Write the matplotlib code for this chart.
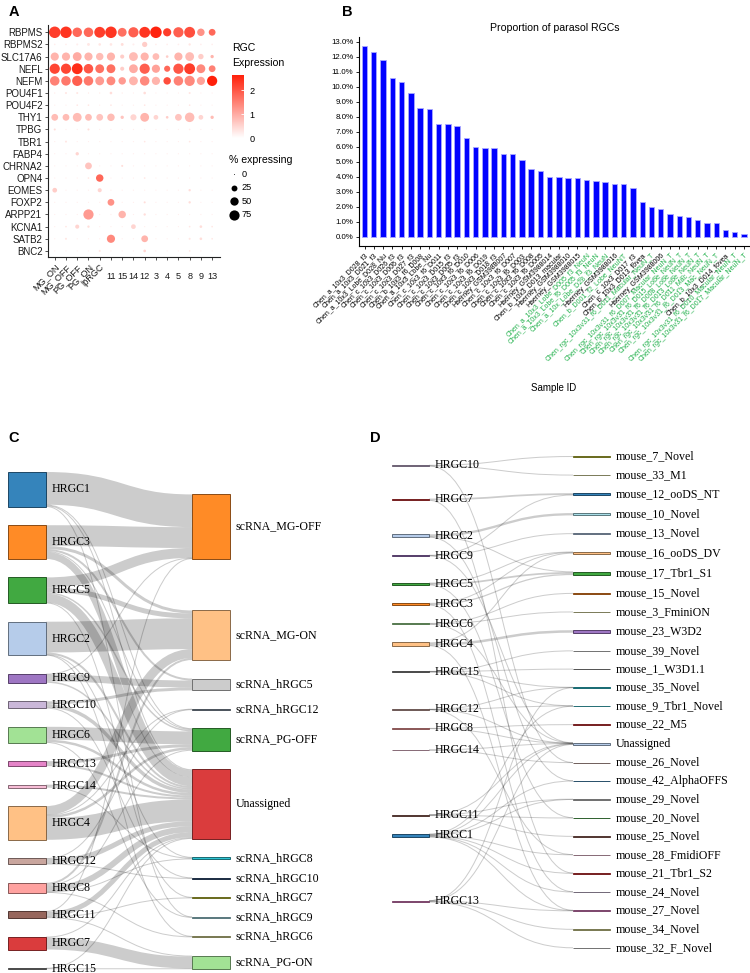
import numpy as np
import matplotlib
matplotlib.use('Agg')
import matplotlib.pyplot as plt
from matplotlib.colors import LinearSegmentedColormap, to_rgb
from matplotlib.path import Path
from matplotlib.patches import PathPatch, Rectangle

W, H = 750, 973
SANS = 'Liberation Sans'
SERIF = 'Liberation Serif'

# ---------------- panel A data ----------------
genes = ['RBPMS', 'RBPMS2', 'SLC17A6', 'NEFL', 'NEFM', 'POU4F1', 'POU4F2', 'THY1', 'TPBG', 'TBR1',
         'FABP4', 'CHRNA2', 'OPN4', 'EOMES', 'FOXP2', 'ARPP21', 'KCNA1', 'SATB2', 'BNC2']
clusters = ['MG_ON', 'MG_OFF', 'PG_OFF', 'PG_ON', 'ipRGC', '11', '15', '14', '12', '3', '4', '5', '8', '9', '13']
pct_expr = np.array([
    [95, 95, 65, 65, 85, 95, 56, 75, 85, 95, 48, 75, 85, 40, 33],
    [2, 2, 3, 6, 5, 5, 6, 3, 20, 2, 2, 2, 4, 2, 2],
    [48, 48, 56, 48, 40, 48, 12, 56, 48, 33, 5, 48, 56, 21, 8],
    [75, 75, 85, 65, 56, 56, 12, 56, 75, 48, 27, 75, 85, 56, 33],
    [65, 65, 75, 65, 56, 56, 40, 56, 65, 48, 40, 65, 75, 48, 75],
    [1, 3, 3, 1, 1, 5, 1, 1, 5, 1, 1, 1, 3, 1, 1],
    [1, 1, 2, 2, 1, 2, 1, 1, 2, 1, 1, 1, 2, 1, 1],
    [33, 33, 56, 33, 33, 40, 8, 27, 56, 16, 5, 33, 65, 16, 8],
    [3, 1, 1, 3, 1, 1, 1, 1, 1, 1, 1, 1, 2, 1, 1],
    [1, 3, 1, 1, 1, 1, 1, 1, 2, 1, 1, 1, 2, 1, 1],
    [1, 1, 8, 1, 1, 1, 1, 1, 1, 1, 1, 1, 1, 1, 1],
    [1, 1, 1, 33, 1, 1, 3, 1, 1, 1, 1, 1, 1, 1, 1],
    [1, 1, 1, 2, 40, 1, 1, 1, 2, 1, 1, 1, 1, 1, 1],
    [16, 1, 1, 1, 12, 1, 1, 1, 1, 1, 1, 1, 4, 1, 1],
    [1, 1, 1, 1, 1, 33, 1, 1, 3, 1, 1, 1, 4, 1, 1],
    [1, 1, 1, 75, 1, 1, 40, 1, 4, 1, 1, 1, 1, 1, 1],
    [1, 2, 12, 4, 1, 1, 1, 16, 1, 1, 1, 1, 2, 5, 2],
    [1, 3, 1, 1, 1, 48, 1, 1, 33, 1, 1, 1, 3, 5, 2],
    [1, 1, 1, 1, 3, 1, 1, 1, 5, 1, 1, 1, 2, 1, 1],
])
avg_expr = np.array([
    [2.3, 2.4, 1.8, 1.8, 2.3, 2.4, 1.7, 1.9, 2.4, 2.6, 2.3, 1.9, 2.1, 1.3, 1.8],
    [0.2, 0.2, 0.2, 0.3, 0.3, 0.3, 0.4, 0.2, 0.6, 0.2, 0.2, 0.2, 0.3, 0.2, 0.2],
    [0.9, 0.9, 1.0, 0.9, 0.8, 0.9, 0.6, 0.8, 0.9, 0.8, 0.6, 0.9, 0.8, 0.6, 0.9],
    [2.2, 2.2, 2.5, 2.0, 1.7, 1.7, 0.6, 1.0, 1.9, 1.1, 1.8, 2.0, 2.3, 1.4, 1.5],
    [1.5, 1.6, 1.9, 1.6, 1.2, 1.4, 1.2, 0.9, 1.4, 0.9, 2.1, 1.5, 1.4, 1.1, 2.7],
    [0.3, 0.3, 0.3, 0.3, 0.3, 0.4, 0.3, 0.2, 0.4, 0.2, 0.2, 0.2, 0.3, 0.2, 0.2],
    [0.2, 0.2, 0.3, 0.3, 0.2, 0.3, 0.2, 0.2, 0.3, 0.2, 0.2, 0.2, 0.3, 0.2, 0.2],
    [0.8, 0.8, 0.8, 0.8, 0.7, 0.8, 0.7, 0.5, 0.9, 0.5, 0.6, 0.7, 0.8, 0.5, 0.8],
    [0.4, 0.2, 0.2, 0.4, 0.2, 0.2, 0.2, 0.2, 0.2, 0.2, 0.2, 0.2, 0.2, 0.2, 0.2],
    [0.2, 0.3, 0.2, 0.2, 0.2, 0.2, 0.2, 0.2, 0.3, 0.2, 0.2, 0.2, 0.3, 0.2, 0.2],
    [0.2, 0.2, 0.5, 0.2, 0.2, 0.2, 0.2, 0.2, 0.2, 0.2, 0.2, 0.2, 0.2, 0.2, 0.2],
    [0.2, 0.2, 0.2, 0.7, 0.2, 0.2, 0.4, 0.2, 0.2, 0.2, 0.2, 0.2, 0.2, 0.2, 0.2],
    [0.2, 0.2, 0.2, 0.3, 1.8, 0.2, 0.2, 0.2, 0.3, 0.2, 0.2, 0.2, 0.2, 0.2, 0.2],
    [0.6, 0.2, 0.2, 0.2, 0.5, 0.2, 0.2, 0.2, 0.2, 0.2, 0.2, 0.2, 0.4, 0.2, 0.2],
    [0.2, 0.2, 0.2, 0.2, 0.2, 1.3, 0.2, 0.2, 0.4, 0.2, 0.2, 0.2, 0.4, 0.2, 0.2],
    [0.2, 0.2, 0.2, 1.2, 0.2, 0.2, 0.9, 0.2, 0.4, 0.2, 0.2, 0.2, 0.2, 0.2, 0.2],
    [0.2, 0.3, 0.5, 0.4, 0.2, 0.2, 0.2, 0.5, 0.2, 0.2, 0.2, 0.2, 0.3, 0.4, 0.3],
    [0.2, 0.3, 0.2, 0.2, 0.2, 1.4, 0.2, 0.2, 0.9, 0.2, 0.2, 0.2, 0.3, 0.4, 0.3],
    [0.2, 0.2, 0.2, 0.2, 0.3, 0.2, 0.2, 0.2, 0.5, 0.2, 0.2, 0.2, 0.3, 0.2, 0.2],
])
size_legend = [0, 25, 50, 75]

# ---------------- panel B data ----------------
samples = [
    'Chen_a_10x3_D028_f3', 'Chen_a_10x3_D021_f3', 'Chen_a_10x3_Lobe_D028_Nu', 'Chen_c_10x3_D026_f3',
    'Chen_c_10x3_D006_f3', 'Chen_c_10x3_D027_f3', 'Chen_b_10x3_f6_D008', 'Chen_a_10x3_Lobe_Nu',
    'Chen_c_10x3_f6_D011', 'Chen_c_10x3_D015_f3', 'Chen_c_10x3_D005_f3', 'Chen_c_10x3_f6_D010',
    'Chen_c_10x3_f6_D006', 'Chen_c_10x3_f6_D019', 'Chen_c_10x3_D018_f3', 'Haerney_GSM3988007',
    'Chen_c_10x3_f6_D007', 'Chen_c_10x3_f6_D003', 'Chen_c_10x3_f6_D008', 'Chen_c_10x3_f6_D005',
    'Haerney_GSM3988014', 'Chen_b_10x3_D013_macular', 'Haerney_GSM3988010', 'Haerney_GSM3988015',
    'Chen_a_10x3_Lobe_D005_f3_NeuN', 'Chen_a_10x3_Lobe_f6_D005_f3_NeuN', 'Chen_a_10x_Lobe_D28_f3_NeuN',
    'Haerney_GSM3988016', 'Chen_b_D001_f2_Lobe_NeuNT', 'Chen_c_10x3_D017_f3', 'Chen_b_10x3_D013_fovea',
    'Chen_rgc_10x3v31_f6_D011_Macular_NeuN_T', 'Haerney_GSM3988006',
    'Chen_rgc_10x3v31_f6_D007_Macular_NeuN_T', 'Chen_rgc_10x3v31_f6_D015_Lobe_NeuN_T',
    'Chen_rgc_10x3v31_f6_D008_Lobe_NeuN_T', 'Chen_rgc_10x3v31_f6_D013_Lobe_NeuN_T',
    'Chen_rgc_10x3v31_f6_D011_Mac_NeuN_T', 'Chen_rgc_10x3v31_f6_D013_Mac_NeuN_T',
    'Chen_b_10x3_D014_fovea', 'Chen_rgc_10x3v31_f6_D010_Macular_NeuN_T',
    'Chen_rgc_10x3v31_f6_D017_Macular_NeuN_T',
]
parasol_pct = [12.7, 12.3, 11.8, 10.6, 10.3, 9.6, 8.6, 8.5, 7.5, 7.5, 7.4, 6.6, 6.0, 5.9, 5.9, 5.5,
               5.5, 5.1, 4.5, 4.4, 4.0, 4.0, 3.95, 3.9, 3.8, 3.75, 3.65, 3.5, 3.5, 3.25, 2.3, 2.0,
               1.85, 1.5, 1.4, 1.3, 1.15, 0.95, 0.95, 0.45, 0.35, 0.2]
neun_enriched = [0] * 24 + [1, 1, 1, 0, 1, 0, 0, 1, 0, 1, 1, 1, 1, 1, 1, 0, 1, 1]

# ---------------- panel C data ----------------
c_left = ['HRGC1', 'HRGC3', 'HRGC5', 'HRGC2', 'HRGC9', 'HRGC10', 'HRGC6', 'HRGC13', 'HRGC14',
          'HRGC4', 'HRGC12', 'HRGC8', 'HRGC11', 'HRGC7', 'HRGC15']
c_right = ['scRNA_MG-OFF', 'scRNA_MG-ON', 'scRNA_hRGC5', 'scRNA_hRGC12', 'scRNA_PG-OFF', 'Unassigned',
           'scRNA_hRGC8', 'scRNA_hRGC10', 'scRNA_hRGC7', 'scRNA_hRGC9', 'scRNA_hRGC6', 'scRNA_PG-ON']
c_links = [
    ('HRGC1', 'scRNA_MG-OFF', 33), ('HRGC1', 'Unassigned', 1), ('HRGC1', 'scRNA_hRGC9', 0.5), ('HRGC1', 'scRNA_PG-OFF', 0.5),
    ('HRGC3', 'scRNA_MG-OFF', 21), ('HRGC3', 'scRNA_MG-ON', 3), ('HRGC3', 'Unassigned', 7), ('HRGC3', 'scRNA_hRGC5', 2),
    ('HRGC3', 'scRNA_PG-OFF', 1),
    ('HRGC5', 'scRNA_MG-OFF', 10), ('HRGC5', 'scRNA_MG-ON', 5), ('HRGC5', 'Unassigned', 9), ('HRGC5', 'scRNA_PG-OFF', 1.5),
    ('HRGC5', 'scRNA_hRGC7', 0.5),
    ('HRGC2', 'scRNA_MG-ON', 31), ('HRGC2', 'Unassigned', 2), ('HRGC2', 'scRNA_hRGC6', 0.5), ('HRGC2', 'scRNA_hRGC8', 0.5),
    ('HRGC9', 'scRNA_hRGC5', 7), ('HRGC9', 'scRNA_MG-OFF', 0.5), ('HRGC9', 'Unassigned', 1.5),
    ('HRGC10', 'scRNA_hRGC5', 3), ('HRGC10', 'Unassigned', 3.5), ('HRGC10', 'scRNA_hRGC10', 0.5),
    ('HRGC6', 'scRNA_PG-OFF', 13), ('HRGC6', 'Unassigned', 2.5), ('HRGC6', 'scRNA_hRGC9', 0.5),
    ('HRGC13', 'scRNA_PG-OFF', 3), ('HRGC13', 'Unassigned', 2),
    ('HRGC14', 'Unassigned', 2), ('HRGC14', 'scRNA_hRGC8', 1),
    ('HRGC4', 'Unassigned', 22), ('HRGC4', 'scRNA_MG-ON', 9), ('HRGC4', 'scRNA_PG-OFF', 2.5), ('HRGC4', 'scRNA_hRGC12', 0.5),
    ('HRGC12', 'Unassigned', 5), ('HRGC12', 'scRNA_hRGC12', 0.5), ('HRGC12', 'scRNA_hRGC10', 0.5),
    ('HRGC8', 'Unassigned', 6), ('HRGC8', 'scRNA_MG-ON', 2), ('HRGC8', 'scRNA_PG-OFF', 1), ('HRGC8', 'scRNA_hRGC8', 0.5),
    ('HRGC8', 'scRNA_hRGC6', 0.5),
    ('HRGC11', 'Unassigned', 5), ('HRGC11', 'scRNA_hRGC7', 0.5), ('HRGC11', 'scRNA_PG-ON', 1), ('HRGC11', 'scRNA_MG-OFF', 0.5),
    ('HRGC7', 'scRNA_PG-ON', 12), ('HRGC7', 'Unassigned', 1),
    ('HRGC15', 'scRNA_PG-ON', 0.5), ('HRGC15', 'Unassigned', 0.5),
]

# ---------------- panel D data ----------------
d_left = ['HRGC10', 'HRGC7', 'HRGC2', 'HRGC9', 'HRGC5', 'HRGC3', 'HRGC6', 'HRGC4', 'HRGC15',
          'HRGC12', 'HRGC8', 'HRGC14', 'HRGC11', 'HRGC1', 'HRGC13']
d_right = ['mouse_7_Novel', 'mouse_33_M1', 'mouse_12_ooDS_NT', 'mouse_10_Novel', 'mouse_13_Novel',
           'mouse_16_ooDS_DV', 'mouse_17_Tbr1_S1', 'mouse_15_Novel', 'mouse_3_FminiON', 'mouse_23_W3D2',
           'mouse_39_Novel', 'mouse_1_W3D1.1', 'mouse_35_Novel', 'mouse_9_Tbr1_Novel', 'mouse_22_M5',
           'Unassigned', 'mouse_26_Novel', 'mouse_42_AlphaOFFS', 'mouse_29_Novel', 'mouse_20_Novel',
           'mouse_25_Novel', 'mouse_28_FmidiOFF', 'mouse_21_Tbr1_S2', 'mouse_24_Novel', 'mouse_27_Novel',
           'mouse_34_Novel', 'mouse_32_F_Novel']
d_links = [
    ('HRGC10', 'mouse_7_Novel', 2.0), ('HRGC10', 'mouse_33_M1', 0.3), ('HRGC10', 'mouse_26_Novel', 0.05),
    ('HRGC7', 'mouse_12_ooDS_NT', 3.5), ('HRGC7', 'mouse_21_Tbr1_S2', 0.05),
    ('HRGC2', 'mouse_10_Novel', 4.6), ('HRGC2', 'mouse_17_Tbr1_S1', 1.0), ('HRGC2', 'mouse_42_AlphaOFFS', 0.25),
    ('HRGC9', 'mouse_13_Novel', 1.0), ('HRGC9', 'mouse_12_ooDS_NT', 0.3), ('HRGC9', 'Unassigned', 0.2),
    ('HRGC5', 'mouse_17_Tbr1_S1', 3.5), ('HRGC5', 'mouse_16_ooDS_DV', 0.3), ('HRGC5', 'mouse_20_Novel', 0.2),
    ('HRGC3', 'mouse_17_Tbr1_S1', 2.5), ('HRGC3', 'mouse_16_ooDS_DV', 1.5), ('HRGC3', 'mouse_24_Novel', 0.2),
    ('HRGC6', 'mouse_15_Novel', 1.2), ('HRGC6', 'mouse_3_FminiON', 1.0), ('HRGC6', 'Unassigned', 0.3),
    ('HRGC4', 'mouse_23_W3D2', 5.0), ('HRGC4', 'mouse_16_ooDS_DV', 1.5), ('HRGC4', 'mouse_27_Novel', 0.2),
    ('HRGC15', 'mouse_39_Novel', 0.5), ('HRGC15', 'mouse_1_W3D1.1', 0.5), ('HRGC15', 'mouse_35_Novel', 0.3),
    ('HRGC15', 'mouse_9_Tbr1_Novel', 0.2),
    ('HRGC12', 'mouse_35_Novel', 0.6), ('HRGC12', 'mouse_9_Tbr1_Novel', 0.3), ('HRGC12', 'Unassigned', 0.2),
    ('HRGC12', 'mouse_28_FmidiOFF', 0.05),
    ('HRGC8', 'mouse_22_M5', 0.8), ('HRGC8', 'Unassigned', 0.2),
    ('HRGC14', 'Unassigned', 0.8), ('HRGC14', 'mouse_26_Novel', 0.4),
    ('HRGC11', 'mouse_20_Novel', 0.8), ('HRGC11', 'mouse_25_Novel', 0.8), ('HRGC11', 'Unassigned', 0.2),
    ('HRGC11', 'mouse_29_Novel', 0.3),
    ('HRGC1', 'mouse_9_Tbr1_Novel', 0.8), ('HRGC1', 'mouse_29_Novel', 0.8), ('HRGC1', 'mouse_28_FmidiOFF', 0.8),
    ('HRGC1', 'mouse_21_Tbr1_S2', 1.2), ('HRGC1', 'mouse_24_Novel', 1.0), ('HRGC1', 'Unassigned', 1.2),
    ('HRGC1', 'mouse_42_AlphaOFFS', 0.5), ('HRGC1', 'mouse_27_Novel', 0.5),
    ('HRGC13', 'mouse_27_Novel', 1.0), ('HRGC13', 'mouse_34_Novel', 1.0), ('HRGC13', 'mouse_32_F_Novel', 0.8),
    ('HRGC13', 'Unassigned', 0.2), ('HRGC13', 'mouse_35_Novel', 0.2),
]

# node colours (d3 category20 style)
hrgc_colors = {
    'HRGC1': '#1f77b4', 'HRGC2': '#aec7e8', 'HRGC3': '#ff7f0e', 'HRGC4': '#ffbb78', 'HRGC5': '#2ca02c',
    'HRGC6': '#98df8a', 'HRGC7': '#d62728', 'HRGC8': '#ff9896', 'HRGC9': '#9467bd', 'HRGC10': '#c5b0d5',
    'HRGC11': '#8c564b', 'HRGC12': '#c49c94', 'HRGC13': '#e377c2', 'HRGC14': '#f7b6d2', 'HRGC15': '#7f7f7f',
}
c_right_colors = {
    'scRNA_MG-OFF': '#ff7f0e', 'scRNA_MG-ON': '#ffbb78', 'scRNA_hRGC5': '#c7c7c7', 'scRNA_hRGC12': '#7f8fa0',
    'scRNA_PG-OFF': '#2ca02c', 'Unassigned': '#d62728', 'scRNA_hRGC8': '#17becf', 'scRNA_hRGC10': '#1f3f6f',
    'scRNA_hRGC7': '#bcbd22', 'scRNA_hRGC9': '#9edae5', 'scRNA_hRGC6': '#dbdb8d', 'scRNA_PG-ON': '#98df8a',
}
d_right_colors = {
    'mouse_7_Novel': '#bcbd22', 'mouse_33_M1': '#dbdb8d', 'mouse_12_ooDS_NT': '#1f77b4',
    'mouse_10_Novel': '#9edae5', 'mouse_13_Novel': '#aec7e8', 'mouse_16_ooDS_DV': '#ffbb78',
    'mouse_17_Tbr1_S1': '#2ca02c', 'mouse_15_Novel': '#ff7f0e', 'mouse_3_FminiON': '#dbdb8d',
    'mouse_23_W3D2': '#9467bd', 'mouse_39_Novel': '#c7c7c7', 'mouse_1_W3D1.1': '#7f7f7f',
    'mouse_35_Novel': '#17becf', 'mouse_9_Tbr1_Novel': '#17becf', 'mouse_22_M5': '#d62728',
    'Unassigned': '#aec7e8', 'mouse_26_Novel': '#c49c94', 'mouse_42_AlphaOFFS': '#1f77b4',
    'mouse_29_Novel': '#c7c7c7', 'mouse_20_Novel': '#2ca02c', 'mouse_25_Novel': '#8c564b',
    'mouse_28_FmidiOFF': '#f7b6d2', 'mouse_21_Tbr1_S2': '#d62728', 'mouse_24_Novel': '#c5b0d5',
    'mouse_27_Novel': '#e377c2', 'mouse_34_Novel': '#dbdb8d', 'mouse_32_F_Novel': '#c7c7c7',
}


def px_rect(x0, y0, x1, y1):
    return [x0 / W, 1 - y1 / H, (x1 - x0) / W, (y1 - y0) / H]


def sankey_layout(left, right, links, top, bottom, pad, iterations=32):
    val = {}
    for s, t, v in links:
        val[s] = val.get(s, 0) + v
        val[t] = val.get(t, 0) + v
    cols = [left, right]
    ky = min((bottom - top - (len(c) - 1) * pad) / sum(val[n] for n in c) for c in cols)
    h = {n: val[n] * ky for n in left + right}
    y = {}
    for c in cols:
        pos = top
        for n in c:
            y[n] = pos
            pos += h[n] + pad

    def center(n):
        return y[n] + h[n] / 2

    def resolve(c):
        pos = top
        for n in c:
            if y[n] < pos:
                y[n] = pos
            pos = y[n] + h[n] + pad
        over = pos - pad - bottom
        if over > 0:
            y[c[-1]] -= over
            pos = y[c[-1]]
            for n in reversed(c[:-1]):
                if y[n] + h[n] + pad > pos:
                    y[n] = pos - pad - h[n]
                pos = y[n]

    alpha = 1.0
    for _ in range(iterations):
        alpha *= 0.99
        for n in left:
            ws = [(v, t) for s, t, v in links if s == n]
            tot = sum(v for v, _ in ws)
            y[n] += (sum(center(t) * v for v, t in ws) / tot - center(n)) * alpha
        resolve(left)
        for n in right:
            ws = [(v, s) for s, t, v in links if t == n]
            tot = sum(v for v, _ in ws)
            y[n] += (sum(center(s) * v for v, s in ws) / tot - center(n)) * alpha
        resolve(right)
    return y, h, ky


def darker(c, k=2):
    r, g, b = to_rgb(c)
    f = 0.7 ** k
    return (r * f, g * f, b * f)


def draw_sankey(ax, left, right, links, colors, xl, xr, nw, top, bottom, pad):
    y, h, ky = sankey_layout(left, right, links, top, bottom, pad)
    cen = {n: y[n] + h[n] / 2 for n in y}
    sy, ty = {}, {}
    for n in left:
        off = 0
        for i in sorted([i for i, l in enumerate(links) if l[0] == n], key=lambda i: cen[links[i][1]]):
            sy[i] = off
            off += links[i][2] * ky
    for n in right:
        off = 0
        for i in sorted([i for i, l in enumerate(links) if l[1] == n], key=lambda i: cen[links[i][0]]):
            ty[i] = off
            off += links[i][2] * ky
    x0, x1 = xl + nw, xr
    xm = x0 + (x1 - x0) * 0.5
    for i, (s, t, v) in enumerate(links):
        w = v * ky
        y0 = y[s] + sy[i] + w / 2
        y1 = y[t] + ty[i] + w / 2
        path = Path([(x0, y0), (xm, y0), (xm, y1), (x1, y1)],
                    [Path.MOVETO, Path.CURVE4, Path.CURVE4, Path.CURVE4])
        ax.add_patch(PathPatch(path, fc='none', ec='black', alpha=0.2, lw=max(1, w) * 0.72,
                               capstyle='butt', zorder=1))
    for col, x in ((left, xl), (right, xr)):
        for n in col:
            ax.add_patch(Rectangle((x, y[n]), nw, h[n], fc=colors[n], ec=darker(colors[n]),
                                   lw=0.7, alpha=0.9, zorder=2))
            ax.text(x + nw + 5.5, cen[n], n, fontsize=8.6, family=SERIF, va='center',
                    ha='left', color='black', zorder=3)


fig = plt.figure(figsize=(W / 100, H / 100), dpi=100)

# ---------------- A: dot plot ----------------
cmap = LinearSegmentedColormap.from_list('rgc', ['#ffffff', '#ff200a'])
ax_a = fig.add_axes(px_rect(48, 25, 220, 257))
xx, yy = np.meshgrid(np.arange(len(clusters)), np.arange(len(genes)))
sc = ax_a.scatter(xx.ravel(), yy.ravel(), s=np.maximum(pct_expr.ravel(), 0.4) * 0.72,
                  c=avg_expr.ravel(), cmap=cmap, vmin=0, vmax=2.65, linewidths=0)
ax_a.set_xlim(-0.6, len(clusters) - 0.3)
ax_a.set_ylim(len(genes) - 0.5, -0.6)
ax_a.set_yticks(range(len(genes)))
ax_a.set_yticklabels(genes, fontsize=7.0, family=SANS, color='#1a1a1a')
ax_a.set_xticks(range(len(clusters)))
ax_a.set_xticklabels(clusters, fontsize=6.6, family=SANS, color='#1a1a1a')
ax_a.tick_params(length=2.5, width=0.6, pad=1.5, color='#333333')
for tick, name in zip(ax_a.xaxis.get_major_ticks(), clusters):
    lbl = tick.label1
    if name.isdigit():
        tick.set_pad(8.5)
        lbl.set_va('top')
    else:
        lbl.set_rotation(45)
        lbl.set_ha('right')
        lbl.set_va('top')
        lbl.set_rotation_mode('anchor')
for side in ('top', 'right'):
    ax_a.spines[side].set_visible(False)
for side in ('left', 'bottom'):
    ax_a.spines[side].set_linewidth(0.8)
    ax_a.spines[side].set_color('#222222')

fig.text(232 / W, 1 - 43 / H, 'RGC\nExpression', fontsize=7.6, family=SANS, va='top', ha='left',
         linespacing=1.6)
cax = fig.add_axes(px_rect(232, 75, 244, 138))
cb = fig.colorbar(sc, cax=cax, ticks=[0, 1, 2])
cb.outline.set_visible(False)
cax.tick_params(axis='y', direction='in', length=2.5, width=0.6, color='white', pad=4, labelsize=6.6)
for t in cax.get_yticklabels():
    t.set_family(SANS)

handles = [ax_a.scatter([], [], s=max(p, 0.4) * 0.72, color='black', linewidths=0) for p in size_legend]
leg = fig.legend(handles, [str(p) for p in size_legend], title='% expressing', loc='upper left',
                 bbox_to_anchor=(229 / W, 1 - 155 / H), frameon=False, alignment='left',
                 prop={'family': SANS, 'size': 6.6}, title_fontproperties={'family': SANS, 'size': 7.6},
                 handlelength=1.0, handletextpad=0.4, labelspacing=0.5, borderpad=0, borderaxespad=0)

# ---------------- B: bar chart ----------------
ax_b = fig.add_axes(px_rect(359, 37, 750, 246))
xb = np.arange(len(samples))
ax_b.bar(xb, parasol_pct, width=0.58, color='#0000ff', edgecolor='#a8a8ff', linewidth=0.6)
ax_b.set_xlim(-0.6, len(samples) - 0.35)
ax_b.set_ylim(-0.6, 13.33)
ax_b.set_yticks(range(14))
ax_b.set_yticklabels([f'{v:.1f}%' for v in range(14)], fontsize=5.7, family=SANS)
ax_b.set_xticks(xb)
ax_b.set_xticklabels(samples, fontsize=5.0, family=SANS, rotation=45, ha='right', va='top',
                     rotation_mode='anchor')
for lbl, g in zip(ax_b.get_xticklabels(), neun_enriched):
    lbl.set_color('#22b14c' if g else 'black')
ax_b.tick_params(length=2.5, width=0.6, pad=1.5)
for side in ('top', 'right'):
    ax_b.spines[side].set_visible(False)
for side in ('left', 'bottom'):
    ax_b.spines[side].set_linewidth(0.8)
ax_b.set_title('Proportion of parasol RGCs', fontsize=7.6, family=SANS, pad=4)
ax_b.set_xlabel('Sample ID', fontsize=7.0, family=SANS)
ax_b.xaxis.set_label_coords(0.497, -0.655)

# ---------------- C & D: sankey diagrams ----------------
ax_s = fig.add_axes([0, 0, 1, (H - 420) / H])
ax_s.set_xlim(0, W)
ax_s.set_ylim(H, 420)
ax_s.axis('off')
draw_sankey(ax_s, c_left, c_right, c_links, {**hrgc_colors, **c_right_colors},
            8, 192, 38, 472, 969, 18.5)
draw_sankey(ax_s, d_left, d_right, d_links, {**hrgc_colors, **d_right_colors},
            392, 573, 37, 456, 948, 18)

for letter, x, y in (('A', 14, 12), ('B', 347, 12), ('C', 14, 438), ('D', 375, 438)):
    fig.text(x / W, 1 - y / H, letter, fontsize=10.5, fontweight='bold', family=SANS,
             va='center', ha='center')

fig.savefig('out.png', dpi=100)
